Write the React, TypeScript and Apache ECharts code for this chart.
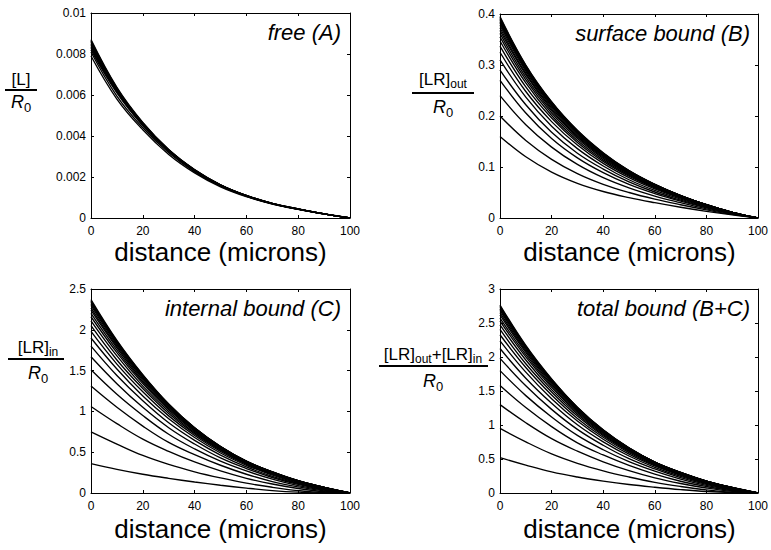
import React, { useEffect, useRef } from "react";
import * as echarts from "echarts";

// distance samples (microns)
const DIST = [0, 10, 20, 30, 40, 50, 60, 70, 80, 90, 100];

// A: free ligand [L]/R0
const FREE = [
  [0.0079, 0.0058, 0.0043, 0.0031, 0.0022, 0.00152, 0.00104, 0.00068, 0.00042, 0.0002, 0],
  [0.0081, 0.00595, 0.0044, 0.00318, 0.00225, 0.00155, 0.00106, 0.00069, 0.00042, 0.0002, 0],
  [0.0082, 0.0061, 0.0045, 0.00325, 0.0023, 0.00158, 0.00107, 0.0007, 0.00043, 0.0002, 0],
  [0.00828, 0.00615, 0.00453, 0.00327, 0.00231, 0.00159, 0.00108, 0.0007, 0.00043, 0.0002, 0],
  [0.00836, 0.0062, 0.00456, 0.00329, 0.00232, 0.0016, 0.00108, 0.0007, 0.00043, 0.0002, 0],
  [0.00843, 0.00624, 0.00458, 0.0033, 0.00233, 0.0016, 0.00109, 0.0007, 0.00043, 0.0002, 0],
  [0.0085, 0.00628, 0.0046, 0.00331, 0.00234, 0.00161, 0.00109, 0.00071, 0.00043, 0.0002, 0],
  [0.00857, 0.00631, 0.00462, 0.00332, 0.00234, 0.00161, 0.0011, 0.00071, 0.00044, 0.0002, 0],
  [0.00864, 0.00634, 0.00464, 0.00333, 0.00235, 0.00162, 0.0011, 0.00071, 0.00044, 0.0002, 0],
  [0.0087, 0.00637, 0.00466, 0.00334, 0.00236, 0.00162, 0.0011, 0.00071, 0.00044, 0.0002, 0],
];

// B: surface bound [LR]out/R0
const SURFACE = [
  [0.16, 0.12, 0.09, 0.068, 0.052, 0.04, 0.03, 0.021, 0.013, 0.006, 0],
  [0.2, 0.152, 0.115, 0.087, 0.066, 0.05, 0.037, 0.026, 0.016, 0.007, 0],
  [0.24, 0.183, 0.139, 0.105, 0.079, 0.059, 0.043, 0.03, 0.018, 0.008, 0],
  [0.27, 0.206, 0.156, 0.118, 0.089, 0.066, 0.048, 0.033, 0.02, 0.009, 0],
  [0.29, 0.222, 0.168, 0.127, 0.096, 0.071, 0.051, 0.035, 0.021, 0.009, 0],
  [0.31, 0.237, 0.18, 0.136, 0.102, 0.075, 0.054, 0.037, 0.022, 0.01, 0],
  [0.325, 0.248, 0.189, 0.143, 0.107, 0.079, 0.057, 0.039, 0.023, 0.01, 0],
  [0.337, 0.257, 0.196, 0.148, 0.111, 0.082, 0.059, 0.04, 0.024, 0.01, 0],
  [0.347, 0.265, 0.201, 0.152, 0.114, 0.084, 0.06, 0.041, 0.024, 0.01, 0],
  [0.355, 0.271, 0.206, 0.156, 0.117, 0.086, 0.061, 0.042, 0.025, 0.011, 0],
  [0.362, 0.276, 0.21, 0.159, 0.119, 0.087, 0.062, 0.042, 0.025, 0.011, 0],
  [0.368, 0.281, 0.213, 0.161, 0.121, 0.088, 0.063, 0.043, 0.025, 0.011, 0],
  [0.373, 0.284, 0.216, 0.163, 0.122, 0.089, 0.064, 0.043, 0.026, 0.011, 0],
  [0.378, 0.288, 0.219, 0.165, 0.123, 0.09, 0.064, 0.043, 0.026, 0.011, 0],
  [0.382, 0.291, 0.221, 0.167, 0.124, 0.091, 0.065, 0.044, 0.026, 0.011, 0],
  [0.385, 0.293, 0.223, 0.168, 0.125, 0.091, 0.065, 0.044, 0.026, 0.011, 0],
  [0.388, 0.295, 0.224, 0.169, 0.126, 0.092, 0.065, 0.044, 0.026, 0.011, 0],
  [0.391, 0.297, 0.226, 0.17, 0.127, 0.092, 0.066, 0.044, 0.026, 0.011, 0],
  [0.393, 0.299, 0.227, 0.171, 0.127, 0.093, 0.066, 0.044, 0.026, 0.011, 0],
  [0.395, 0.3, 0.228, 0.172, 0.128, 0.093, 0.066, 0.044, 0.026, 0.011, 0],
];

// C: internal bound [LR]in/R0
const INTERNAL = [
  [0.36, 0.29, 0.23, 0.18, 0.135, 0.095, 0.06, 0.03, 0.01, 0, 0],
  [0.75, 0.6, 0.46, 0.35, 0.26, 0.185, 0.12, 0.07, 0.03, 0.005, 0],
  [1.06, 0.85, 0.66, 0.51, 0.38, 0.27, 0.18, 0.11, 0.055, 0.015, 0],
  [1.31, 1.05, 0.82, 0.62, 0.47, 0.34, 0.23, 0.14, 0.075, 0.025, 0],
  [1.51, 1.21, 0.95, 0.72, 0.54, 0.39, 0.27, 0.17, 0.09, 0.035, 0],
  [1.67, 1.34, 1.05, 0.8, 0.6, 0.43, 0.3, 0.19, 0.105, 0.04, 0],
  [1.8, 1.44, 1.13, 0.86, 0.645, 0.465, 0.32, 0.205, 0.115, 0.045, 0],
  [1.9, 1.52, 1.19, 0.91, 0.68, 0.49, 0.34, 0.22, 0.12, 0.05, 0],
  [1.98, 1.58, 1.24, 0.945, 0.705, 0.51, 0.35, 0.23, 0.13, 0.055, 0],
  [2.05, 1.63, 1.28, 0.975, 0.725, 0.525, 0.36, 0.235, 0.135, 0.06, 0],
  [2.11, 1.68, 1.31, 1.0, 0.74, 0.535, 0.365, 0.24, 0.14, 0.062, 0],
  [2.16, 1.72, 1.34, 1.02, 0.755, 0.545, 0.372, 0.245, 0.142, 0.064, 0],
  [2.2, 1.75, 1.36, 1.035, 0.765, 0.552, 0.377, 0.248, 0.144, 0.066, 0],
  [2.24, 1.78, 1.38, 1.05, 0.775, 0.557, 0.381, 0.251, 0.146, 0.067, 0],
  [2.27, 1.8, 1.4, 1.06, 0.782, 0.562, 0.384, 0.254, 0.147, 0.068, 0],
  [2.3, 1.82, 1.415, 1.07, 0.788, 0.565, 0.386, 0.256, 0.148, 0.069, 0],
  [2.32, 1.835, 1.425, 1.077, 0.793, 0.567, 0.388, 0.257, 0.149, 0.069, 0],
  [2.34, 1.85, 1.435, 1.083, 0.796, 0.568, 0.389, 0.258, 0.15, 0.07, 0],
  [2.355, 1.86, 1.443, 1.087, 0.798, 0.569, 0.39, 0.259, 0.15, 0.07, 0],
  [2.37, 1.87, 1.45, 1.09, 0.8, 0.57, 0.39, 0.26, 0.15, 0.07, 0],
];

// D: total bound ([LR]out+[LR]in)/R0
const TOTAL = [
  [0.52, 0.41, 0.31, 0.235, 0.175, 0.125, 0.085, 0.05, 0.022, 0.006, 0],
  [0.95, 0.752, 0.575, 0.437, 0.326, 0.235, 0.157, 0.096, 0.046, 0.012, 0],
  [1.3, 1.033, 0.799, 0.615, 0.459, 0.329, 0.223, 0.14, 0.073, 0.023, 0],
  [1.58, 1.256, 0.976, 0.738, 0.559, 0.406, 0.278, 0.173, 0.095, 0.034, 0],
  [1.8, 1.432, 1.118, 0.847, 0.636, 0.461, 0.321, 0.205, 0.111, 0.044, 0],
  [1.98, 1.577, 1.23, 0.936, 0.702, 0.505, 0.354, 0.227, 0.127, 0.05, 0],
  [2.125, 1.688, 1.319, 1.003, 0.752, 0.544, 0.377, 0.244, 0.138, 0.055, 0],
  [2.237, 1.777, 1.386, 1.058, 0.791, 0.572, 0.399, 0.26, 0.144, 0.06, 0],
  [2.327, 1.845, 1.441, 1.097, 0.819, 0.594, 0.41, 0.271, 0.154, 0.065, 0],
  [2.405, 1.901, 1.486, 1.131, 0.842, 0.611, 0.421, 0.277, 0.16, 0.071, 0],
  [2.472, 1.956, 1.52, 1.159, 0.859, 0.622, 0.427, 0.282, 0.165, 0.073, 0],
  [2.528, 2.001, 1.553, 1.181, 0.876, 0.633, 0.435, 0.288, 0.167, 0.075, 0],
  [2.573, 2.034, 1.576, 1.198, 0.887, 0.641, 0.441, 0.291, 0.17, 0.077, 0],
  [2.618, 2.068, 1.599, 1.215, 0.898, 0.647, 0.445, 0.294, 0.172, 0.078, 0],
  [2.652, 2.091, 1.621, 1.227, 0.906, 0.653, 0.449, 0.298, 0.173, 0.079, 0],
  [2.685, 2.113, 1.638, 1.238, 0.913, 0.656, 0.451, 0.3, 0.174, 0.08, 0],
  [2.708, 2.13, 1.649, 1.246, 0.919, 0.659, 0.453, 0.301, 0.175, 0.08, 0],
  [2.731, 2.147, 1.661, 1.253, 0.923, 0.66, 0.455, 0.302, 0.176, 0.081, 0],
  [2.748, 2.159, 1.67, 1.258, 0.925, 0.662, 0.456, 0.303, 0.176, 0.081, 0],
  [2.765, 2.17, 1.678, 1.262, 0.928, 0.663, 0.456, 0.304, 0.176, 0.081, 0],
];

// axis ranges: [min, max, interval]
const X_RANGE = [0, 100, 20];
const FREE_Y = [0, 0.01, 0.002];
const SURFACE_Y = [0, 0.4, 0.1];
const INTERNAL_Y = [0, 2.5, 0.5];
const TOTAL_Y = [0, 3, 0.5];

const TITLES = ["free (A)", "surface bound (B)", "internal bound (C)", "total bound (B+C)"];
const X_NAME = "distance (microns)";

const FONT = '"Liberation Sans", Arial, Helvetica, sans-serif';

export default function App() {
  const ref = useRef<HTMLDivElement>(null);

  useEffect(() => {
    if (!ref.current) return;
    const chart = echarts.init(ref.current, null, { renderer: "svg" });

    const grids = [
      { left: 91, top: 13, width: 259, height: 205 },
      { left: 500, top: 14, width: 259, height: 204 },
      { left: 91, top: 289, width: 259, height: 204 },
      { left: 500, top: 289, width: 259, height: 204 },
    ];
    const yRanges = [FREE_Y, SURFACE_Y, INTERNAL_Y, TOTAL_Y];
    const curves = [FREE, SURFACE, INTERNAL, TOTAL];

    const axisLine = { show: true, onZero: false, lineStyle: { color: "#000", width: 1 } };
    const tick = { show: true, inside: true, length: 3, lineStyle: { color: "#000", width: 1 } };
    const label = { color: "#000", fontSize: 12, fontFamily: FONT, showMinLabel: true, showMaxLabel: true };

    const xAxis: any[] = [];
    const yAxis: any[] = [];
    grids.forEach((_, i) => {
      xAxis.push({
        type: "value", gridIndex: i, position: "bottom",
        min: X_RANGE[0], max: X_RANGE[1], interval: X_RANGE[2],
        axisLine, axisTick: tick, splitLine: { show: false },
        axisLabel: { ...label, margin: 7 },
      });
    });
    grids.forEach((_, i) => {
      xAxis.push({
        type: "value", gridIndex: i, position: "top",
        min: X_RANGE[0], max: X_RANGE[1], interval: X_RANGE[2],
        axisLine, axisTick: tick, splitLine: { show: false },
        axisLabel: { show: false },
      });
    });
    grids.forEach((_, i) => {
      const r = yRanges[i];
      yAxis.push({
        type: "value", gridIndex: i, position: "left",
        min: r[0], max: r[1], interval: r[2],
        axisLine, axisTick: tick, splitLine: { show: false },
        axisLabel: { ...label, margin: 5 },
      });
    });
    grids.forEach((_, i) => {
      const r = yRanges[i];
      yAxis.push({
        type: "value", gridIndex: i, position: "right",
        min: r[0], max: r[1], interval: r[2],
        axisLine, axisTick: tick, splitLine: { show: false },
        axisLabel: { show: false },
      });
    });

    const series: any[] = [];
    curves.forEach((set, pi) => {
      set.forEach((ys) => {
        series.push({
          type: "line",
          xAxisIndex: pi,
          yAxisIndex: pi,
          data: DIST.map((x, k) => [x, ys[k]]),
          symbol: "none",
          showSymbol: false,
          smooth: 0.4,
          silent: true,
          clip: true,
          lineStyle: { color: "#000", width: 1.35 },
        });
      });
    });

    // text measuring for fraction labels
    const canvas = document.createElement("canvas");
    const ctx = canvas.getContext("2d")!;
    const measure = (t: string, font: string) => {
      ctx.font = font;
      return ctx.measureText(t).width;
    };
    const BASE = `17px ${FONT}`;
    const SUB = `12px ${FONT}`;
    const RFONT = `italic 18px ${FONT}`;
    const SUBR = `13px ${FONT}`;

    const graphic: any[] = [];
    const addText = (t: string, x: number, y: number, font: string, align = "left") => {
      graphic.push({
        type: "text", x, y, silent: true,
        style: { text: t, font, fill: "#000", align, verticalAlign: "middle" },
      });
    };

    const fraction = (
      parts: { t: string; sub?: boolean }[],
      cx: number, numY: number, lineY: number, lx1: number, lx2: number, denY: number
    ) => {
      const widths = parts.map((p) => measure(p.t, p.sub ? SUB : BASE));
      const total = widths.reduce((a, b) => a + b, 0);
      let x = cx - total / 2;
      parts.forEach((p, k) => {
        addText(p.t, x, p.sub ? numY + 5 : numY, p.sub ? SUB : BASE);
        x += widths[k];
      });
      graphic.push({
        type: "line", silent: true,
        shape: { x1: lx1, y1: lineY, x2: lx2, y2: lineY },
        style: { stroke: "#000", lineWidth: 2 },
      });
      const wr = measure("R", RFONT);
      const w0 = measure("0", SUBR);
      const dx = cx - (wr + w0) / 2;
      addText("R", dx, denY, RFONT);
      addText("0", dx + wr, denY + 5, SUBR);
    };

    fraction([{ t: "[L]" }], 21, 79, 90, 5, 37, 102);
    fraction([{ t: "[LR]" }, { t: "out", sub: true }], 443, 79, 93, 412, 474, 107);
    fraction([{ t: "[LR]" }, { t: "in", sub: true }], 38, 347, 359, 8, 64, 373);
    fraction(
      [{ t: "[LR]" }, { t: "out", sub: true }, { t: "+" }, { t: "[LR]" }, { t: "in", sub: true }],
      433, 354, 366, 379, 488, 381
    );

    // panel titles
    grids.forEach((g, i) => {
      addText(TITLES[i], g.left + g.width - 9, g.top + 19, `italic 22px ${FONT}`, "right");
    });
    // x-axis names
    grids.forEach((g, i) => {
      addText(X_NAME, g.left + g.width / 2, i < 2 ? 252 : 529, `26px ${FONT}`, "center");
    });

    chart.setOption({
      animation: false,
      backgroundColor: "#fff",
      grid: grids.map((g) => ({ ...g, containLabel: false, show: false })),
      xAxis,
      yAxis,
      series,
      graphic,
    });

    return () => chart.dispose();
  }, []);

  return (
    <div
      ref={ref}
      style={{ position: "absolute", left: 0, top: 0, width: 771, height: 550, background: "#fff" }}
    />
  );
}
